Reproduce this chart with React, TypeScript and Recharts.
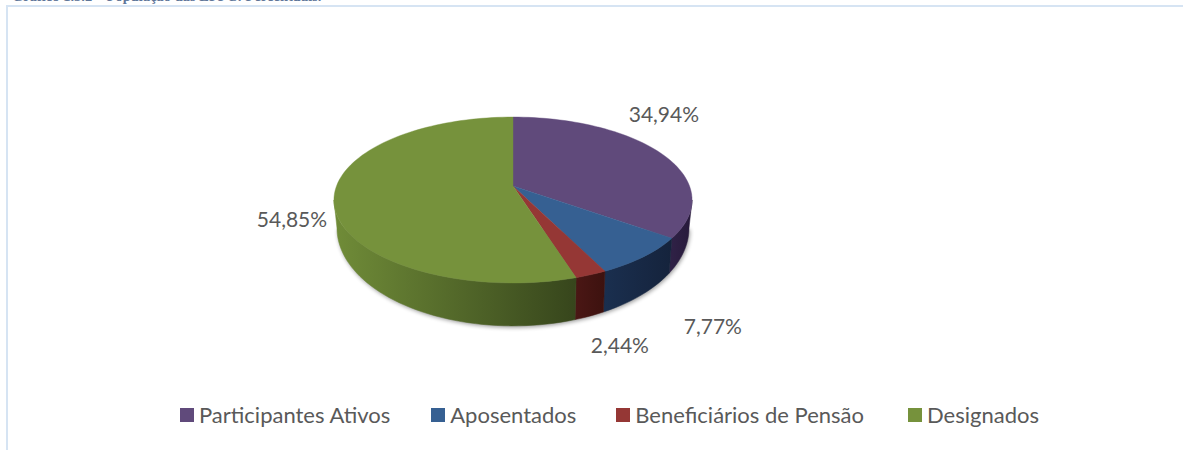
import { PieChart, Pie, Legend } from "recharts";

const categories = ["Participantes Ativos", "Aposentados", "Beneficiários de Pensão", "Designados"];
const shares = [34.94, 7.77, 2.44, 54.85];
const shareLabels = ["34,94%", "7,77%", "2,44%", "54,85%"];
const topColors = ["#604a7b", "#366092", "#953735", "#76923c"];
const wallFrom = ["#2f2146", "#1a2f4f", "#4b1715", "#708c38"];
const wallTo = ["#271a3a", "#15233c", "#3d120f", "#37461c"];
const labelNudge = [[5, -38], [69, 69], [29, 70], [-42, 20]];
const legendGaps = [41, 40, 44, 0];

const chartData = categories.map((name, i) => ({ name, value: shares[i], fill: topColors[i] }));

const W = 1183;
const H = 450;
const CX = 513;
const CY = 186;
const RADIUS = 176.5;
const TILT = 0.4567; // vertical squash of the disc
const PERSP = 0.1687; // front of the disc is nearer than the back
const LEFT_X = 334;

// 3d look: project a point on the rim, theta = degrees clockwise from 12 o'clock
function rim(theta: number) {
  const t = (theta * Math.PI) / 180;
  const u = Math.sin(t);
  const v = -Math.cos(t);
  const d = 1 - PERSP * v;
  return { x: CX + (RADIUS * u) / d, y: CY + (RADIUS * TILT * v) / d };
}

function base(theta: number) {
  const p = rim(theta);
  return { x: CX + (p.x - CX) * 0.983, y: 228 + (p.y - 200) * 1.18 };
}

const WALL_START = (Math.acos(-PERSP) * 180) / Math.PI;
const WALL_END = 360 - WALL_START;

function sweep(a: number, b: number, fn: (t: number) => { x: number; y: number }) {
  const steps = Math.max(2, Math.ceil(Math.abs(b - a) / 2));
  const pts: string[] = [];
  for (let i = 0; i <= steps; i++) {
    const p = fn(a + ((b - a) * i) / steps);
    pts.push(`${p.x.toFixed(2)} ${p.y.toFixed(2)}`);
  }
  return pts;
}

function Wedge(props: any) {
  const idx = categories.indexOf(props.name);
  const t0 = 90 - props.startAngle;
  const t1 = 90 - props.endAngle;
  const top = `M${props.cx} ${props.cy} L${sweep(t0, t1, rim).join(" L")} Z`;
  const a = Math.max(t0, WALL_START);
  const b = Math.min(t1, WALL_END);
  let wall = null;
  if (b > a) {
    const d = `M${sweep(a, b, rim).join(" L")} L${sweep(b, a, base).join(" L")} Z`;
    wall = <path d={d} fill={`url(#wall-${idx})`} stroke={`url(#wall-${idx})`} strokeWidth={0.5} />;
  }
  const shadow = `M${sweep(WALL_START, WALL_END, base).join(" L")} Z`;
  return (
    <g>
      {idx === 0 && (
        <>
          <defs>
            <filter id="soft" x="-10%" y="-10%" width="120%" height="120%">
              <feGaussianBlur stdDeviation="2" />
            </filter>
            {categories.map((c, i) => (
              <linearGradient
                key={c}
                id={`wall-${i}`}
                gradientUnits="userSpaceOnUse"
                x1={i === 3 ? LEFT_X : rim(i === 0 ? 126 : i === 1 ? 154 : 163).x}
                x2={i === 3 ? rim(163).x : rim(i === 0 ? 100 : i === 1 ? 126 : 154).x}
                y1={0}
                y2={0}
              >
                <stop offset="0" stopColor={wallFrom[i]} />
                <stop offset="1" stopColor={wallTo[i]} />
              </linearGradient>
            ))}
          </defs>
          <path d={shadow} fill="#000" opacity={0.4} filter="url(#soft)" transform="translate(1 1.5)" />
        </>
      )}
      {wall}
      <path d={top} fill={props.fill} stroke={props.fill} strokeWidth={0.4} />
    </g>
  );
}

function renderLabel(props: any) {
  const idx = categories.indexOf(props.name);
  const p = rim(90 - props.midAngle);
  return (
    <text
      x={p.x + labelNudge[idx][0]}
      y={p.y + labelNudge[idx][1]}
      textAnchor="middle"
      dominantBaseline="central"
      fontFamily="Lato, sans-serif"
      fontSize={21}
      fill="#595959"
    >
      {shareLabels[idx]}
    </text>
  );
}

function LegendRow({ payload }: any) {
  return (
    <div style={{ display: "flex", fontFamily: "Lato, sans-serif", fontSize: 22, color: "#595959", lineHeight: "26px" }}>
      {(payload || []).map((item: any, i: number) => (
        <div key={item.value} style={{ display: "flex", alignItems: "center", marginRight: legendGaps[i] }}>
          <span style={{ width: 14, height: 14, background: item.color, marginRight: 5 }} />
          <span style={{ whiteSpace: "nowrap" }}>{item.value}</span>
        </div>
      ))}
    </div>
  );
}

export default function App() {
  return (
    <div style={{ position: "absolute", left: 0, top: 0, width: W, height: H, overflow: "hidden", background: "#fff" }}>
      <div
        style={{
          position: "absolute",
          left: 12,
          top: -13,
          fontFamily: "'Liberation Serif', serif",
          fontWeight: "bold",
          fontSize: 14.5,
          lineHeight: "18px",
          color: "#5f7699",
          whiteSpace: "nowrap",
        }}
      >
        Gráfico 1.5.2 – População das EFPC: Percentuais.
      </div>
      <div style={{ position: "absolute", left: 6, top: 5, width: W, height: H, border: "2px solid #d6e4f3" }} />
      <div style={{ position: "absolute", left: 0, top: 0 }}>
        <PieChart width={W} height={H} margin={{ top: 0, right: 0, bottom: 0, left: 0 }}>
          <Pie
            data={chartData}
            dataKey="value"
            nameKey="name"
            cx={CX}
            cy={CY}
            outerRadius={RADIUS}
            startAngle={90}
            endAngle={-270}
            shape={Wedge}
            label={renderLabel}
            labelLine={false}
            isAnimationActive={false}
          />
          <Legend
            content={<LegendRow />}
            itemSorter={null}
            wrapperStyle={{ position: "absolute", left: 180, top: 402, width: 980, height: 30 }}
          />
        </PieChart>
      </div>
    </div>
  );
}
